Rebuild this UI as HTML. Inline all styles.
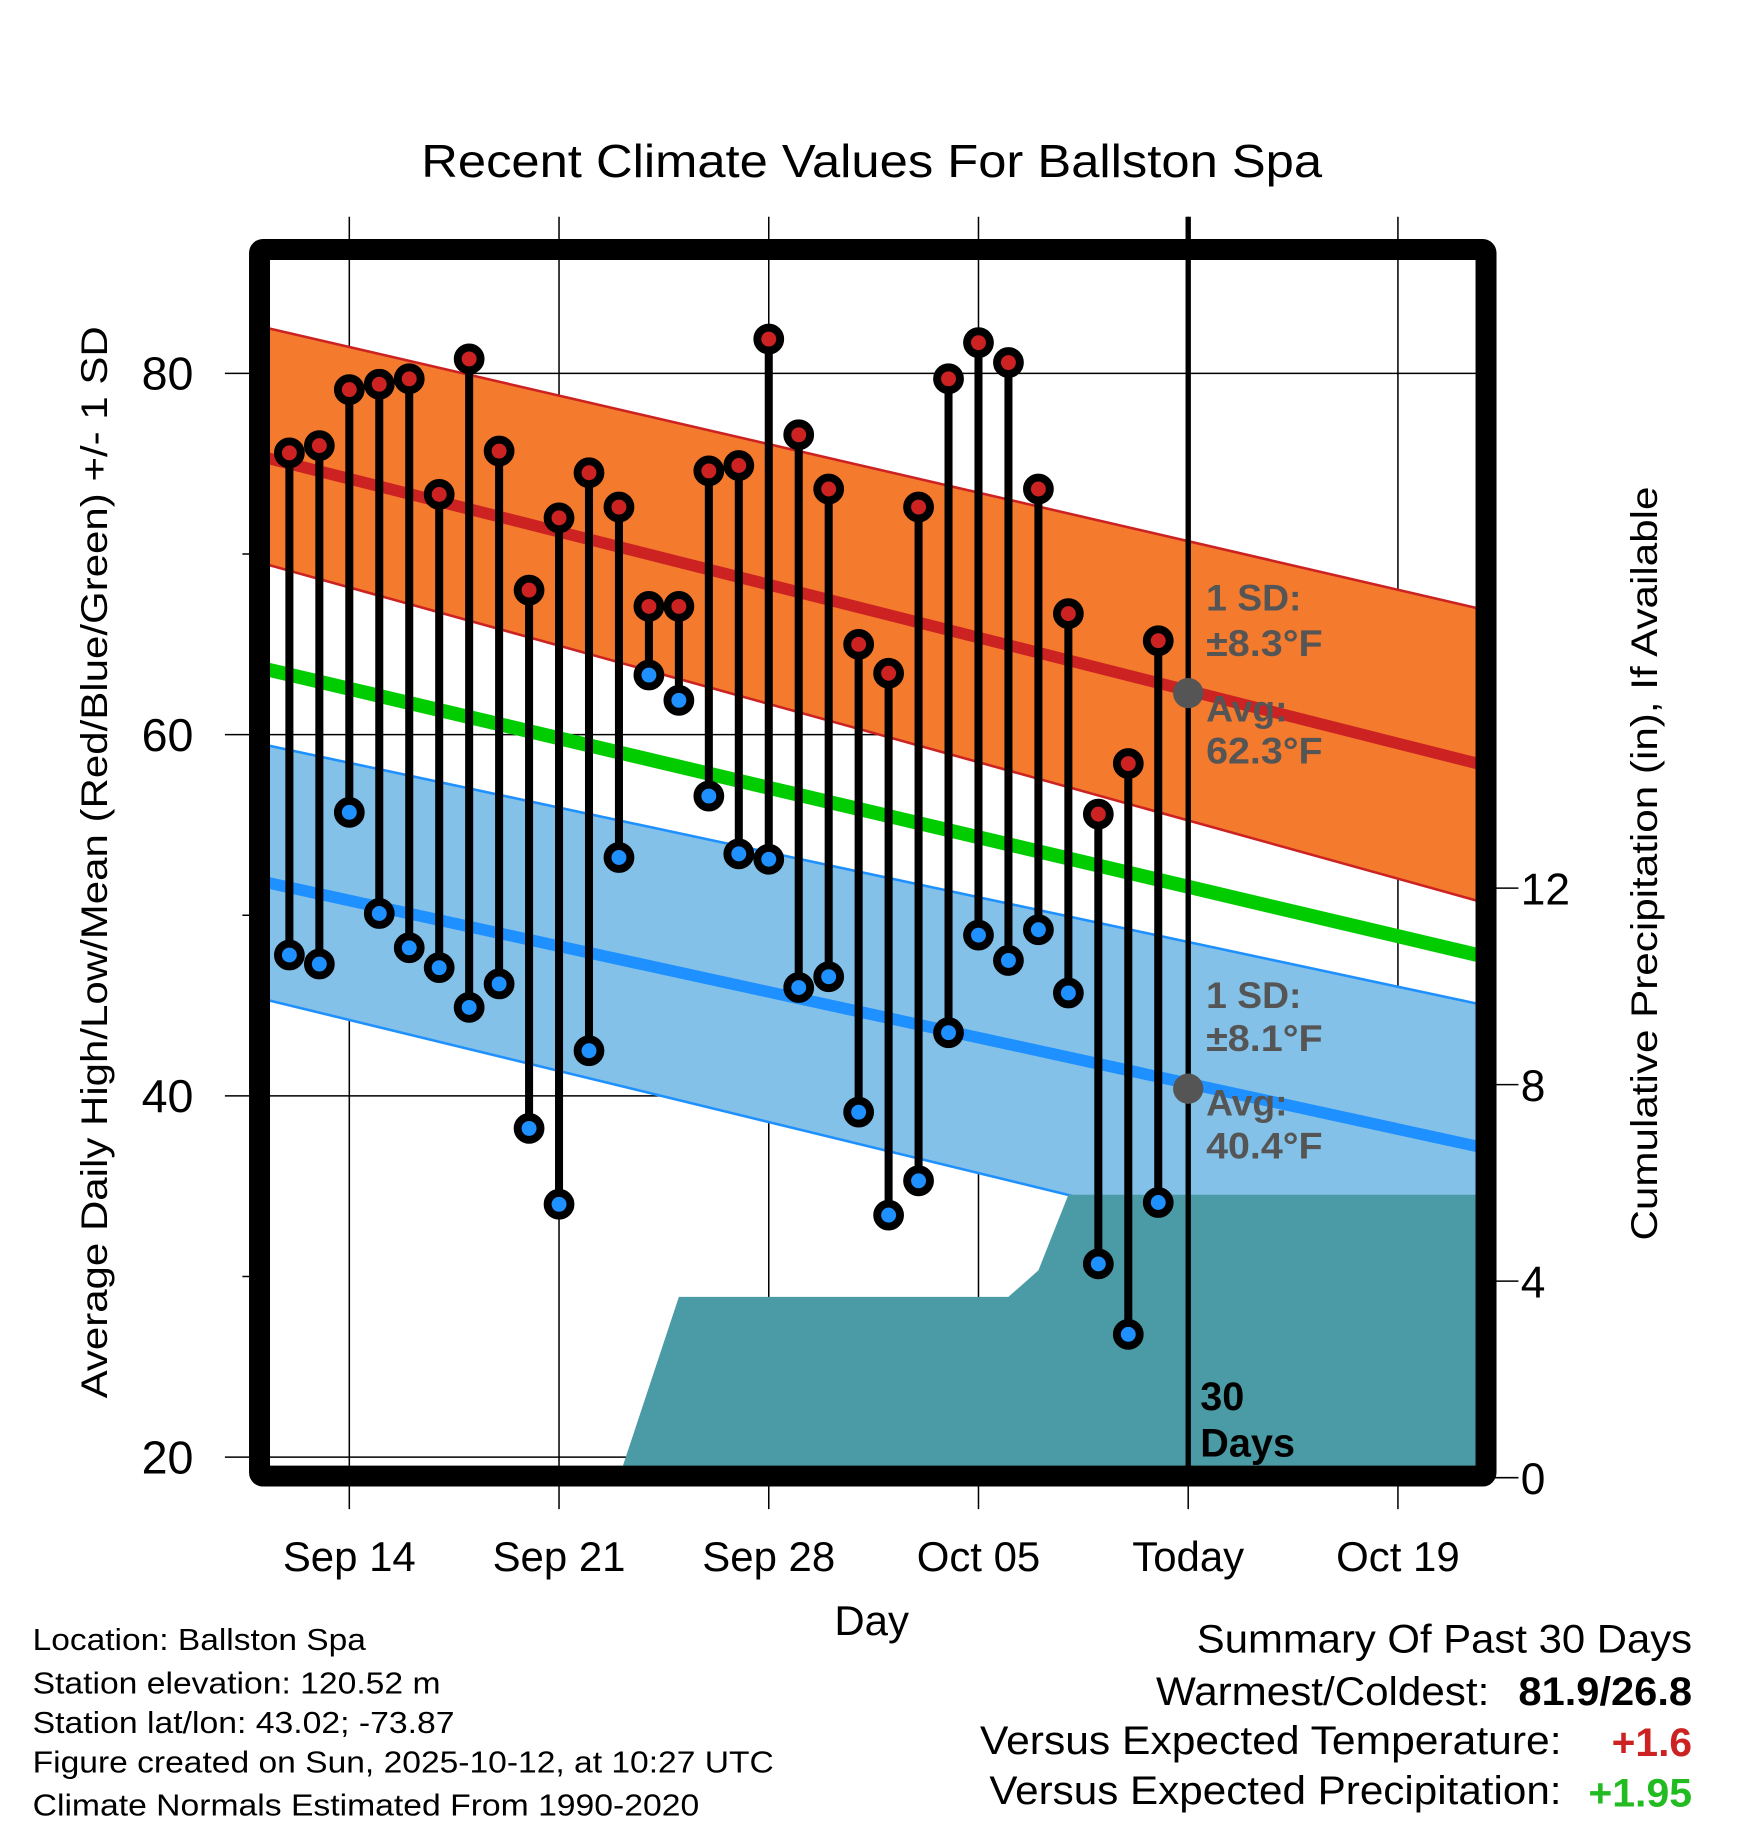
<!DOCTYPE html>
<html><head><meta charset="utf-8"><style>
html,body{margin:0;padding:0;background:#fff;}
svg{display:block;font-family:"Liberation Sans",Arial,sans-serif;}
</style></head><body>
<svg id="chart" width="1748" height="1828" viewBox="0 0 1500 1568.6" preserveAspectRatio="none" xmlns="http://www.w3.org/2000/svg">
<defs><clipPath id="pc"><rect x="231" y="223" width="1037" height="1037"/></clipPath></defs>
<rect x="0" y="0" width="1500" height="1569" fill="#fff"/>
<text x="748" y="152" font-size="40" text-anchor="middle" textLength="773" lengthAdjust="spacingAndGlyphs">Recent Climate Values For Ballston Spa</text>
<g id="grid"></g>
<g id="plot" clip-path="url(#pc)"></g>
<g id="marks"></g>
<g id="axes"></g>
<text transform="translate(92,740) rotate(-90)" font-size="32" text-anchor="middle" textLength="920" lengthAdjust="spacingAndGlyphs">Average Daily High/Low/Mean (Red/Blue/Green) +/- 1 SD</text>
<text transform="translate(1422,741) rotate(-90)" font-size="32" text-anchor="middle" textLength="647" lengthAdjust="spacingAndGlyphs">Cumulative Precipitation (in), If Available</text>
<text x="748" y="1403" font-size="36" text-anchor="middle">Day</text>
<g font-size="26">
<text x="28" y="1416" textLength="286" lengthAdjust="spacingAndGlyphs">Location: Ballston Spa</text>
<text x="28" y="1453" textLength="350" lengthAdjust="spacingAndGlyphs">Station elevation: 120.52 m</text>
<text x="28" y="1487" textLength="362" lengthAdjust="spacingAndGlyphs">Station lat/lon: 43.02; -73.87</text>
<text x="28" y="1521" textLength="636" lengthAdjust="spacingAndGlyphs">Figure created on Sun, 2025-10-12, at 10:27 UTC</text>
<text x="28" y="1558" textLength="572" lengthAdjust="spacingAndGlyphs">Climate Normals Estimated From 1990-2020</text>
</g>
<g font-size="34">
<text x="1452" y="1418" text-anchor="end" textLength="425" lengthAdjust="spacingAndGlyphs">Summary Of Past 30 Days</text>
<text x="1278" y="1463" text-anchor="end" textLength="286" lengthAdjust="spacingAndGlyphs">Warmest/Coldest:</text>
<text x="1452" y="1463" text-anchor="end" font-weight="bold" textLength="149" lengthAdjust="spacingAndGlyphs">81.9/26.8</text>
<text x="1340" y="1505" text-anchor="end" textLength="499" lengthAdjust="spacingAndGlyphs">Versus Expected Temperature:</text>
<text x="1452" y="1507" text-anchor="end" font-weight="bold" fill="#cc2222" textLength="69" lengthAdjust="spacingAndGlyphs">+1.6</text>
<text x="1340" y="1548" text-anchor="end" textLength="491" lengthAdjust="spacingAndGlyphs">Versus Expected Precipitation:</text>
<text x="1452" y="1550" text-anchor="end" font-weight="bold" fill="#22bb22" textLength="89" lengthAdjust="spacingAndGlyphs">+1.95</text>
</g>
<script>
// ---- data ----
const dayOffsets = [-2,-1,0,1,2,3,4,5,6,7,8,9,10,11,12,13,14,15,16,17,18,19,20,21,22,23,24,25,26,27];
const highs = [75.6,76.0,79.1,79.4,79.7,73.3,80.8,75.7,68.0,72.0,74.5,72.6,67.1,67.1,74.6,74.9,81.9,76.6,73.6,65.0,63.4,72.6,79.7,81.7,80.6,73.6,66.7,55.6,58.4,65.2];
const lows = [47.8,47.3,55.7,50.1,48.2,47.1,44.9,46.2,38.2,34.0,42.5,53.2,63.3,61.9,56.6,53.4,53.1,46.0,46.6,39.1,33.4,35.3,43.5,48.9,47.5,49.2,45.7,30.7,26.8,34.1];
const precip = [0,0,0,0,0,0,0,0,0,0,0,0,1.84,3.68,3.68,3.68,3.68,3.68,3.68,3.68,3.68,3.68,3.68,3.68,3.68,4.22,5.76,5.76,5.76,5.76];
const normalDays = [-2.71, 37.66];
const normHigh = [75.3, 58.4];
const normHighUpper = [82.5, 67.0];
const normHighLower = [69.4, 50.8];
const normMean = [63.6, 47.8];
const normLow = [51.8, 37.2];
const normLowUpper = [59.4, 45.1];
const normLowLower = [45.3, 29.0];
const xTickDays = [0,7,14,21,28,35];
const xTickLabels = ["Sep 14","Sep 21","Sep 28","Oct 05","Today","Oct 19"];
const yTicks = [20,40,60,80];
const yMinor = [30,50,70];
const pTicks = [0,4,8,12];
const todayDay = 28;
const todayHigh = 62.3, todayLow = 40.4;

// ---- scales (display units) ----
const X = d => 299.75 + d*25.71;
const Y = t => 320.4 + (80 - t)*15.5;
const P = p => 1268 - p*42.16;
const NS = "http://www.w3.org/2000/svg";
function mk(tag, parent, attrs){const e=document.createElementNS(NS,tag);for(const k in attrs)e.setAttribute(k,attrs[k]);parent.appendChild(e);return e;}
const grid=document.getElementById('grid'), plot=document.getElementById('plot'), marks=document.getElementById('marks'), axes=document.getElementById('axes');

function band(up, lo, fill, name){
  const x0=X(normalDays[0]), x1=X(normalDays[1]);
  const e=mk('polygon',plot,{points:`${x0},${Y(up[0])} ${x1},${Y(up[1])} ${x1},${Y(lo[1])} ${x0},${Y(lo[0])}`,fill:fill});
  
  
}
function line(v, color, w, name){
  const e=mk('line',plot,{x1:X(normalDays[0]),y1:Y(v[0]),x2:X(normalDays[1]),y2:Y(v[1]),stroke:color,'stroke-width':w});
  
  
}
band(normHighUpper, normHighLower, '#f47a2e', 'high-sd-band');
line(normHighUpper,'#cc2222',2.2,'high-sd-upper');
line(normHighLower,'#cc2222',2.2,'high-sd-lower');
band(normLowUpper, normLowLower, '#83c1e8', 'low-sd-band');
line(normLowUpper,'#1e90ff',2.2,'low-sd-upper');
line(normLowLower,'#1e90ff',2.2,'low-sd-lower');

// precipitation area
let pts=`${X(dayOffsets[0])},${P(0)} `;
dayOffsets.forEach((d,i)=>{pts+=`${X(d)},${P(precip[i])} `;});
pts+=`${X(normalDays[1])+10},${P(precip[precip.length-1])} ${X(normalDays[1])+10},${P(0)}`;
const pa=mk('polygon',plot,{points:pts,fill:'#4a9ba5'});



line(normMean,'#00cc00',12,'normal-mean-line');
line(normHigh,'#cc2222',10,'normal-high-line');
line(normLow,'#1e90ff',10,'normal-low-line');

// gridlines
xTickDays.forEach(d=>{
  const g=mk('line',grid,{x1:X(d),y1:186,x2:X(d),y2:1295,stroke:'#000','stroke-width':1.3});
  
  
});
yTicks.forEach(t=>{
  const g=mk('line',grid,{x1:193,y1:Y(t),x2:1275,y2:Y(t),stroke:'#000','stroke-width':1.3});
  
  
});
yMinor.forEach(t=>{
  const g=mk('line',grid,{x1:208,y1:Y(t),x2:222,y2:Y(t),stroke:'#000','stroke-width':1.3});
  
  
});
pTicks.forEach(p=>{
  const g=mk('line',axes,{x1:1275,y1:P(p),x2:1303,y2:P(p),stroke:'#000','stroke-width':1.3});
  
  
  const t=mk('text',axes,{x:1305,y:P(p)+14,'font-size':38});
  t.textContent=String(p);
  
  
});
yTicks.forEach(v=>{
  const t=mk('text',axes,{x:166,y:Y(v)+14,'font-size':40,'text-anchor':'end'});
  t.textContent=String(v);
  
  
});
xTickDays.forEach((d,i)=>{
  const t=mk('text',axes,{x:X(d),y:1348,'font-size':36,'text-anchor':'middle'});
  t.textContent=xTickLabels[i];
  
  
});

// today line
const tl=mk('line',marks,{x1:X(todayDay),y1:186,x2:X(todayDay),y2:1262,stroke:'#000','stroke-width':4.6});



// daily stems and points
dayOffsets.forEach((d,i)=>{
  const s=mk('line',marks,{x1:X(d),y1:Y(highs[i]),x2:X(d),y2:Y(lows[i]),stroke:'#000','stroke-width':6.9});
  
  
});
dayOffsets.forEach((d,i)=>{
  const h=mk('circle',marks,{cx:X(d),cy:Y(highs[i]),r:9.8,fill:'#cc2222',stroke:'#000','stroke-width':6.8});
  
  
  const l=mk('circle',marks,{cx:X(d),cy:Y(lows[i]),r:9.8,fill:'#1e90ff',stroke:'#000','stroke-width':6.8});
  
  
});

// annotations
[[todayHigh],[todayLow]].forEach(([v])=>{
  const c=mk('circle',marks,{cx:X(todayDay),cy:Y(v),r:13,fill:'#555'});
  
  
});
function ann(txt,x,y,fill,name,len,fs){
  const t=mk('text',marks,{x:x,y:y,'font-size':fs||32,'font-weight':'bold',fill:fill});
  if(len){t.setAttribute('textLength',len);t.setAttribute('lengthAdjust','spacingAndGlyphs');}
  t.textContent=txt;
  
  
}
ann('1 SD:',1035,524,'#555','high-sd-label');
ann('±8.3°F',1035,563,'#555','high-sd-value',100);
ann('Avg:',1035,619,'#555','high-avg-label');
ann(todayHigh.toFixed(1)+'°F',1035,655,'#555','high-avg-value',100);
ann('1 SD:',1035,865,'#555','low-sd-label');
ann('±8.1°F',1035,902,'#555','low-sd-value',100);
ann('Avg:',1035,957,'#555','low-avg-label');
ann(todayLow.toFixed(1)+'°F',1035,994,'#555','low-avg-value',100);
ann('30',1030,1210,'#000','days-count-number',null,34);
ann('Days',1030,1250,'#000','days-count-label',null,34);

// frame
const fr=mk('rect',axes,{x:222.7,y:214.1,width:1052.5,height:1052.5,fill:'none',stroke:'#000','stroke-width':18,rx:3});


</script>
</svg>
</body></html>
